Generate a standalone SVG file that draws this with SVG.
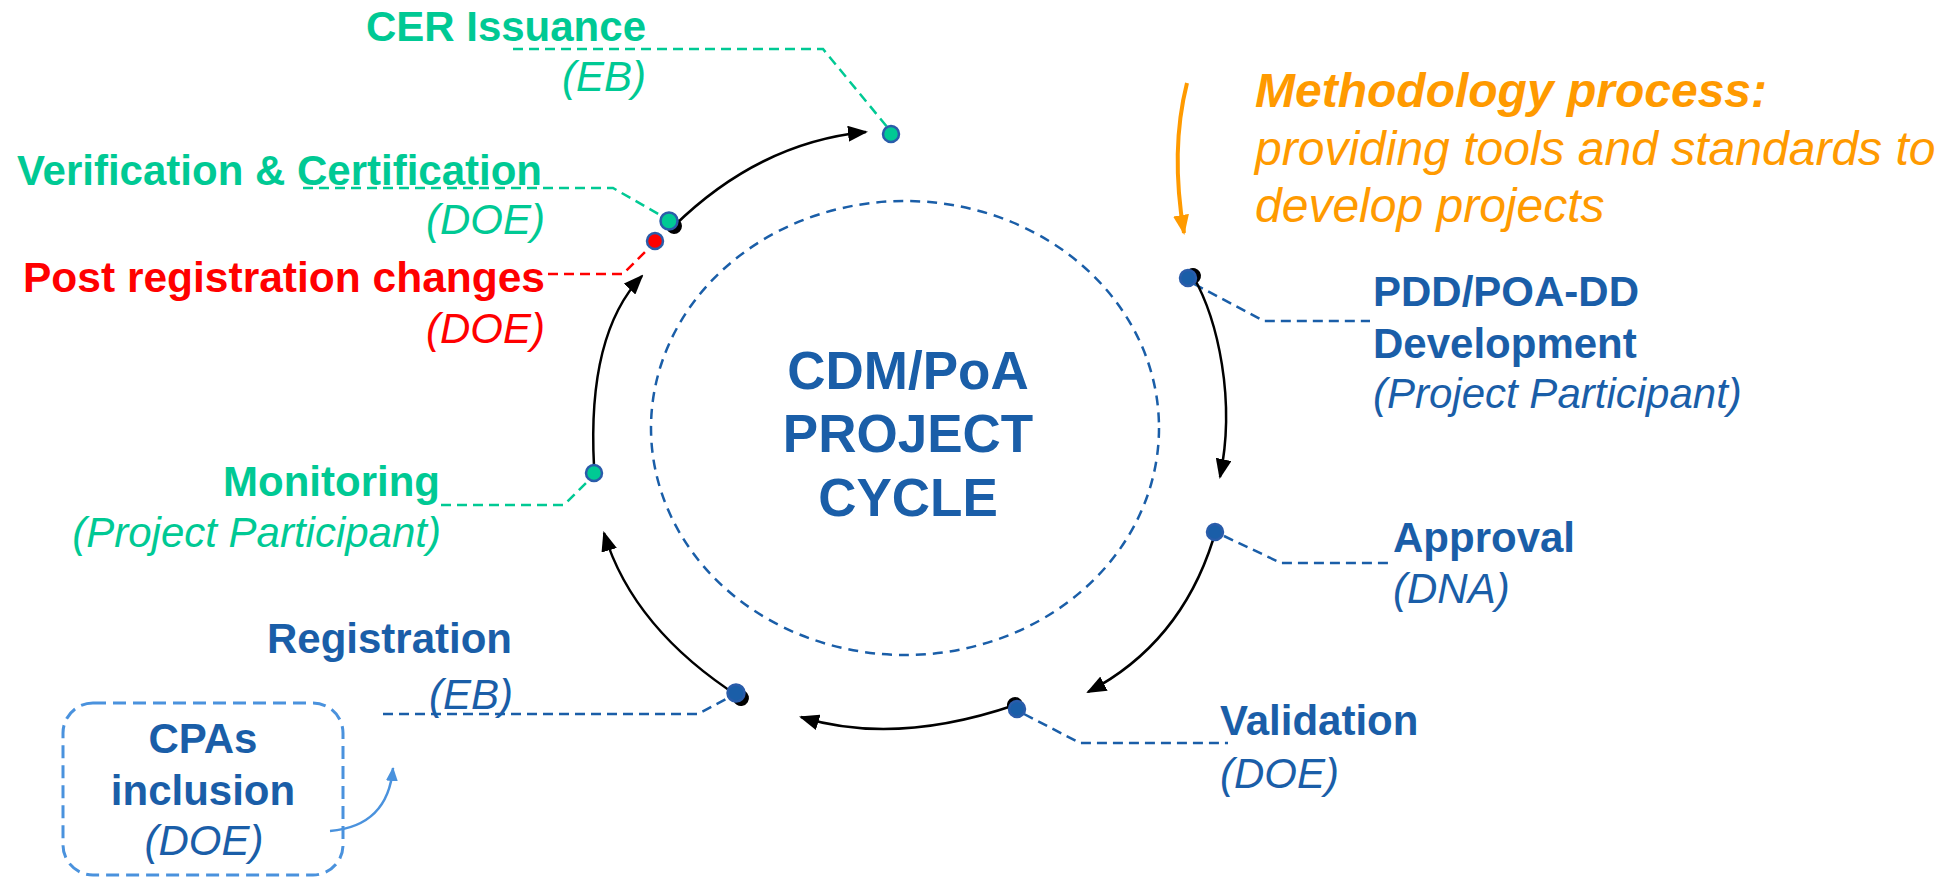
<svg xmlns="http://www.w3.org/2000/svg" width="1954" height="877" viewBox="0 0 1954 877">
  <style>
    text { font-family: "Liberation Sans", Arial, sans-serif; font-size: 42px; }
    .b { font-weight: bold; }
    .i { font-style: italic; }
    .big { font-size: 53px; }
    .meth { font-size: 48px; }
    .blue { fill: #1A5EA8; }
    .green { fill: #00C994; }
    .red { fill: #FF0000; }
    .orange { fill: #FF9A00; }
    .lead { fill: none; stroke-width: 2.5; stroke-dasharray: 10 6; }
    .lg { stroke: #00C994; }
    .lb { stroke: #1A5EA8; }
    .lr { stroke: #FF0000; }
    .arc { fill: none; stroke: #000; stroke-width: 2.5; }
    .dot { stroke: #2A5CAA; stroke-width: 2.5; }
  </style>
  <defs>
    <marker id="arrow" markerUnits="userSpaceOnUse" viewBox="0 0 20 16" markerWidth="20" markerHeight="16" refX="18" refY="8" orient="auto">
      <path d="M0,0 L20,8 L0,16 z" fill="#000"/>
    </marker>
    <marker id="tail" markerUnits="userSpaceOnUse" viewBox="0 0 18 18" markerWidth="18" markerHeight="18" refX="9" refY="9" orient="auto">
      <circle cx="9" cy="9" r="8" fill="#000"/>
    </marker>
    <marker id="arrowOrange" markerUnits="userSpaceOnUse" viewBox="0 0 20 16" markerWidth="20" markerHeight="16" refX="18" refY="8" orient="auto">
      <path d="M0,0 L20,8 L0,16 z" fill="#FF9A00"/>
    </marker>
    <marker id="arrowLight" markerUnits="userSpaceOnUse" viewBox="0 0 14 12" markerWidth="14" markerHeight="12" refX="13" refY="6" orient="auto">
      <path d="M0,0 L14,6 L0,12 z" fill="#4A92DD"/>
    </marker>
  </defs>

  <!-- central cycle ring -->
  <g id="cycle-center">
    <ellipse cx="905" cy="428" rx="254" ry="227" fill="none" stroke="#1A5EA8" stroke-width="2.5" stroke-dasharray="10 7"/>
    <text class="b blue big" x="908" y="389" text-anchor="middle">CDM/PoA</text>
    <text class="b blue big" x="908" y="452" text-anchor="middle">PROJECT</text>
    <text class="b blue big" x="908" y="516" text-anchor="middle">CYCLE</text>
  </g>

  <!-- connectors: dashed label leaders, cycle arcs, side arrows -->
  <g id="connectors">
    <polyline class="lead lg" points="513,49 823,49 888,128"/>
    <polyline class="lead lg" points="303,188 613,188 662,216"/>
    <polyline class="lead lr" points="548,274 623,274 648,249"/>
    <polyline class="lead lg" points="441,505 564,505 587,482"/>
    <polyline class="lead lb" points="383,714 698,714 730,697"/>
    <polyline class="lead lb" points="1194,284 1264,321 1370,321"/>
    <polyline class="lead lb" points="1224,536 1281,563 1392,563"/>
    <polyline class="lead lb" points="1024,714 1080,743 1228,743"/>

    <path class="arc" d="M674,226 Q760,142 866,132" marker-start="url(#tail)" marker-end="url(#arrow)"/>
    <path class="arc" d="M594,466 C590,390 600,320 642,276" marker-end="url(#arrow)"/>
    <path class="arc" d="M741,698 Q633,629 604,533" marker-start="url(#tail)" marker-end="url(#arrow)"/>
    <path class="arc" d="M1015,705 Q895,746 801,717" marker-start="url(#tail)" marker-end="url(#arrow)"/>
    <path class="arc" d="M1213,540 Q1180,644 1088,692" marker-end="url(#arrow)"/>
    <path class="arc" d="M1193,276 C1218,320 1236,400 1220,477" marker-start="url(#tail)" marker-end="url(#arrow)"/>

    <path d="M1187,83 Q1170,150 1184,233" fill="none" stroke="#FF9A00" stroke-width="4" marker-end="url(#arrowOrange)"/>
    <path d="M330,831 Q388,826 393,768" fill="none" stroke="#4A92DD" stroke-width="2.5" marker-end="url(#arrowLight)"/>
  </g>

  <g id="cer-issuance">
    <circle class="dot" cx="891" cy="134" r="8" fill="#00C994"/>
    <text class="b green" x="646" y="41" text-anchor="end">CER Issuance</text>
    <text class="i green" x="646" y="91" text-anchor="end">(EB)</text>
  </g>

  <g id="verification">
    <circle class="dot" cx="669" cy="221" r="8.5" fill="#00C994"/>
    <text class="b green" x="542" y="185" text-anchor="end">Verification &amp; Certification</text>
    <text class="i green" x="545" y="234" text-anchor="end">(DOE)</text>
  </g>

  <g id="post-registration">
    <circle class="dot" cx="655" cy="241" r="8" fill="#FF0000"/>
    <text class="b red" x="545" y="292" text-anchor="end" textLength="522" lengthAdjust="spacingAndGlyphs">Post registration changes</text>
    <text class="i red" x="545" y="343" text-anchor="end">(DOE)</text>
  </g>

  <g id="monitoring">
    <circle class="dot" cx="594" cy="473" r="8" fill="#00C994"/>
    <text class="b green" x="440" y="496" text-anchor="end">Monitoring</text>
    <text class="i green" x="441" y="547" text-anchor="end">(Project Participant)</text>
  </g>

  <g id="registration">
    <circle class="dot" cx="736" cy="693" r="8.5" fill="#1A5EA8"/>
    <text class="b blue" x="512" y="653" text-anchor="end">Registration</text>
    <text class="i blue" x="513" y="709" text-anchor="end">(EB)</text>
  </g>

  <g id="cpas-inclusion">
    <rect x="63" y="703" width="280" height="172" rx="30" ry="30" fill="none" stroke="#4A92DD" stroke-width="3" stroke-dasharray="13 7"/>
    <text class="b blue" x="203" y="753" text-anchor="middle">CPAs</text>
    <text class="b blue" x="203" y="805" text-anchor="middle">inclusion</text>
    <text class="i blue" x="204" y="855" text-anchor="middle">(DOE)</text>
  </g>

  <g id="validation">
    <circle class="dot" cx="1017" cy="709" r="8" fill="#1A5EA8"/>
    <text class="b blue" x="1220" y="735">Validation</text>
    <text class="i blue" x="1220" y="788">(DOE)</text>
  </g>

  <g id="approval">
    <circle class="dot" cx="1215" cy="532" r="8" fill="#1A5EA8"/>
    <text class="b blue" x="1393" y="552">Approval</text>
    <text class="i blue" x="1393" y="603">(DNA)</text>
  </g>

  <g id="pdd-development">
    <circle class="dot" cx="1188" cy="278" r="8" fill="#1A5EA8"/>
    <text class="b blue" x="1373" y="306">PDD/POA-DD</text>
    <text class="b blue" x="1373" y="358">Development</text>
    <text class="i blue" x="1373" y="408">(Project Participant)</text>
  </g>

  <g id="methodology">
    <text class="b i orange meth" x="1255" y="107">Methodology process:</text>
    <text class="i orange meth" x="1255" y="165">providing tools and standards to</text>
    <text class="i orange meth" x="1255" y="222">develop projects</text>
  </g>
</svg>
